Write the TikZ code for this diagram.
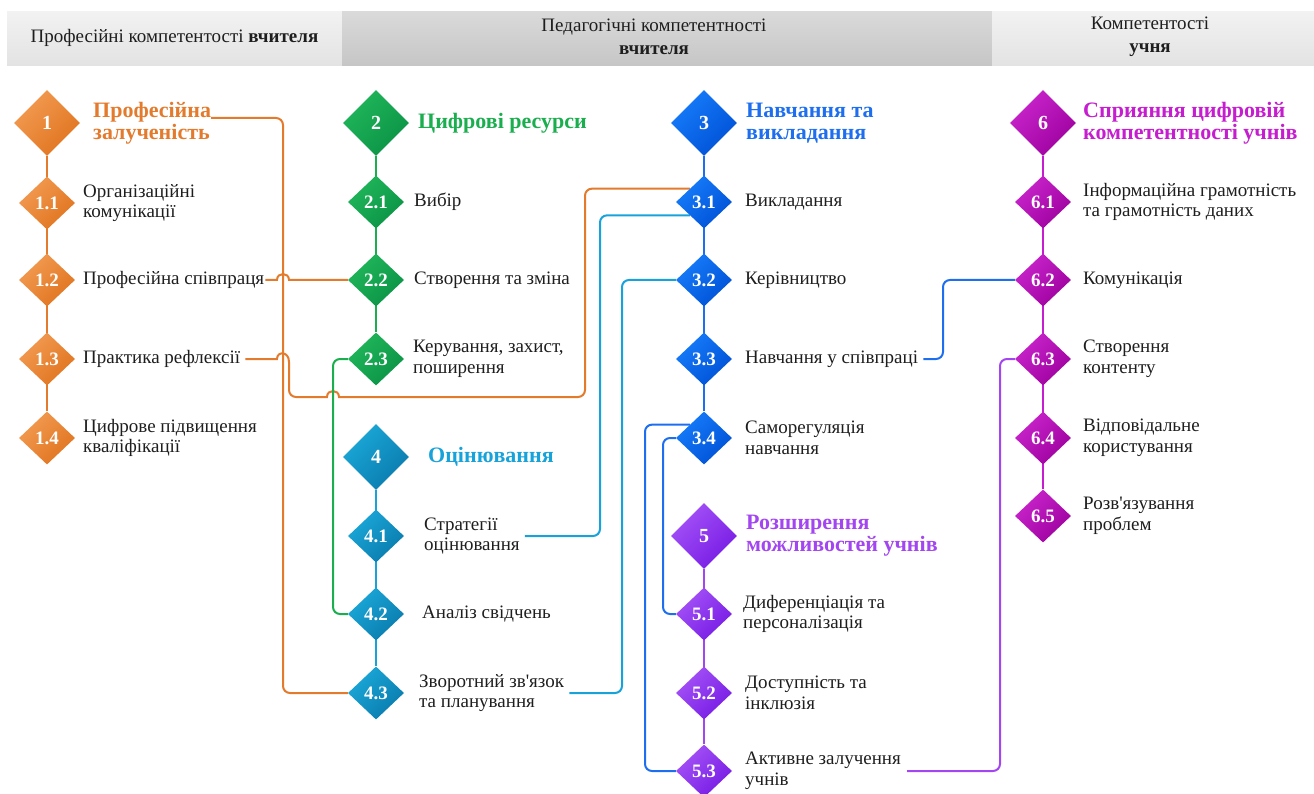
\documentclass[tikz,border=0pt]{standalone}
\usepackage{fontspec}
\setmainfont{Liberation Serif}[Ligatures=TeXOff]
\usetikzlibrary{shapes.geometric,calc}
\pgfdeclarelayer{bg}
\pgfsetlayers{bg,main}
\definecolor{orL}{HTML}{F29B52}\definecolor{orD}{HTML}{E0741F}\definecolor{orT}{HTML}{E37A2C}
\definecolor{grL}{HTML}{20B65A}\definecolor{grD}{HTML}{0B9346}\definecolor{grT}{HTML}{1BAE4F}
\definecolor{tlL}{HTML}{1AA8D8}\definecolor{tlD}{HTML}{0A7BAD}\definecolor{tlT}{HTML}{18A2DA}
\definecolor{blL}{HTML}{167CFA}\definecolor{blD}{HTML}{0051D6}\definecolor{blT}{HTML}{1E6FF0}
\definecolor{puL}{HTML}{A452F7}\definecolor{puD}{HTML}{761BE4}\definecolor{puT}{HTML}{A346F1}
\definecolor{mgL}{HTML}{C825CC}\definecolor{mgD}{HTML}{9E009E}\definecolor{mgT}{HTML}{C51DCF}
\definecolor{txt}{HTML}{1E1E1E}
\definecolor{hAa}{HTML}{F2F2F2}\definecolor{hAb}{HTML}{E3E3E3}
\definecolor{hBa}{HTML}{DADADA}\definecolor{hBb}{HTML}{C6C6C6}
\newcommand\lblfont{\fontsize{19}{20.5}\selectfont}
\newcommand\ttlfont{\bfseries\fontsize{22}{22}\selectfont}
\tikzset{
  dia/.style={diamond, inner sep=0pt, minimum width=56pt, minimum height=53pt, text=white,
    font=\bfseries\fontsize{19}{19}\selectfont},
  big/.style={dia, minimum width=66pt, minimum height=66pt, font=\bfseries\fontsize{20}{20}\selectfont},
  cdia/.style={top color=#1L, bottom color=#1D, shading angle=45},
  lbl/.style={anchor=west, align=left, inner sep=0pt, text=txt, font=\lblfont},
  ttl/.style={anchor=west, align=left, inner sep=0pt, font=\ttlfont},
  ln/.style={line width=2pt, rounded corners=7pt},
  sp/.style={line width=2pt},
  hdr/.style={anchor=north west, inner sep=0pt, minimum height=54pt},
  htxt/.style={align=center, inner sep=0pt, text=txt, font=\fontsize{19}{23}\selectfont}
}
\begin{document}
\begin{tikzpicture}[x=1pt,y=-1pt]
\useasboundingbox (0,0) rectangle (1314,794);
% header
\node[hdr, minimum width=335pt, top color=hAa, bottom color=hAb] (h1) at (7,11) {};
\node[hdr, minimum width=650pt, top color=hBa, bottom color=hBb] (h2) at (342,11) {};
\node[hdr, minimum width=322pt, top color=hAa, bottom color=hAb] (h3) at (992,11) {};
\node[htxt] (h1t) at (174.5,38) {Професійні компетентості \textbf{вчителя}};
\node[htxt] (h2t) at (654,37) {Педагогічні компетентності\\\textbf{вчителя}};
\node[htxt] (h3t) at (1150,37) {Компетентості\\\textbf{учня}};
% column 1
\node[big, cdia=or] (n1) at (47,123) {1};
\node[dia, cdia=or] (n11) at (47,203) {1.1};
\node[dia, cdia=or] (n12) at (47,280) {1.2};
\node[dia, cdia=or] (n13) at (47,359) {1.3};
\node[dia, cdia=or] (n14) at (47,438) {1.4};
\node[ttl, anchor=base west, text=orT] (t1a) at (93,118) {Професійна};
\node[ttl, anchor=base west, text=orT] (t1b) at (93,140) {залученість};
\node[lbl] (n11t) at (83,203) {Організаційні\\комунікації};
\node[lbl] (n12t) at (83,280) {Професійна співпраця};
\node[lbl] (n13t) at (83,359) {Практика рефлексії};
\node[lbl] (n14t) at (83,438) {Цифрове підвищення\\кваліфікації};
% column 2
\node[big, cdia=gr] (n2) at (376,123) {2};
\node[dia, cdia=gr] (n21) at (376,202) {2.1};
\node[dia, cdia=gr] (n22) at (376,280) {2.2};
\node[dia, cdia=gr] (n23) at (376,359) {2.3};
\node[ttl, text=grT] (t2) at (418,123) {Цифрові ресурси};
\node[lbl] (n21t) at (414,202) {Вибір};
\node[lbl] (n22t) at (414,280) {Створення та зміна};
\node[lbl] (n23t) at (413,359) {Керування, захист,\\поширення};
\node[big, cdia=tl] (n4) at (376,457) {4};
\node[dia, cdia=tl] (n41) at (376,536) {4.1};
\node[dia, cdia=tl] (n42) at (376,614) {4.2};
\node[dia, cdia=tl] (n43) at (376,693) {4.3};
\node[ttl, text=tlT] (t4) at (428,457) {Оцінювання};
\node[lbl] (n41t) at (424,536) {Стратегії\\оцінювання};
\node[lbl] (n42t) at (422,614) {Аналіз свідчень};
\node[lbl] (n43t) at (419,693) {Зворотний зв'язок\\та планування};
% column 3
\node[big, cdia=bl] (n3) at (704,123) {3};
\node[dia, cdia=bl] (n31) at (704,202) {3.1};
\node[dia, cdia=bl] (n32) at (704,280) {3.2};
\node[dia, cdia=bl] (n33) at (704,359) {3.3};
\node[dia, cdia=bl] (n34) at (704,438) {3.4};
\node[ttl, text=blT] (t3) at (746,123) {Навчання та\\викладання};
\node[lbl] (n31t) at (745,202) {Викладання};
\node[lbl] (n32t) at (745,280) {Керівництво};
\node[lbl] (n33t) at (745,359) {Навчання у співпраці};
\node[lbl] (n34t) at (745,438) {Саморегуляція\\навчання};
\node[big, cdia=pu] (n5) at (704,536) {5};
\node[dia, cdia=pu] (n51) at (704,614) {5.1};
\node[dia, cdia=pu] (n52) at (704,693) {5.2};
\node[dia, cdia=pu] (n53) at (704,771) {5.3};
\node[ttl, text=puT] (t5) at (746,536) {Розширення\\можливостей учнів};
\node[lbl] (n51t) at (743,614) {Диференціація та\\персоналізація};
\node[lbl] (n52t) at (745,693) {Доступність та\\інклюзія};
\node[lbl] (n53t) at (745,771) {Активне залучення\\учнів};
% column 4
\node[big, cdia=mg] (n6) at (1043,123) {6};
\node[dia, cdia=mg] (n61) at (1043,202) {6.1};
\node[dia, cdia=mg] (n62) at (1043,280) {6.2};
\node[dia, cdia=mg] (n63) at (1043,359) {6.3};
\node[dia, cdia=mg] (n64) at (1043,438) {6.4};
\node[dia, cdia=mg] (n65) at (1043,516) {6.5};
\node[ttl, text=mgT] (t6) at (1083,123) {Сприяння цифровій\\компетентності учнів};
\node[lbl] (n61t) at (1083,202) {Інформаційна грамотність\\та грамотність даних};
\node[lbl] (n62t) at (1083,280) {Комунікація};
\node[lbl] (n63t) at (1083,359) {Створення\\контенту};
\node[lbl] (n64t) at (1083,438) {Відповідальне\\користування};
\node[lbl] (n65t) at (1083,516) {Розв'язування\\проблем};
\begin{pgfonlayer}{bg}
% spines
\draw[sp, orT] (n1) -- (n14);
\draw[sp, grT] (n2) -- (n23);
\draw[sp, tlT] (n4) -- (n43);
\draw[sp, blT] (n3) -- (n34);
\draw[sp, puT] (n5) -- (n53);
\draw[sp, mgT] (n6) -- (n65);
% connectors
\draw[ln, orT] (t1a.base east) -| (283,0 |- n43.west) -- (n43.west);
\draw[ln, orT, sharp corners] ([xshift=1pt]n12t.east) -- (277,280) .. controls (277,272) and (289,272) .. (289,280) -- (n22.west);
\draw[ln, orT] ([xshift=5pt]n13t.east) [sharp corners] -- (277,359) .. controls (277,351) and (289,351) .. (289,362) [rounded corners=7pt] -- (289,397) [sharp corners] -- (327,397) .. controls (327,389) and (339,389) .. (339,397) [rounded corners=7pt] -- (585,397) |- (n31.north west);
\draw[ln, grT] (n23.west) -| (333,0 |- n42.west) -- (n42.west);
\draw[ln, tlT] ([xshift=5pt]n41t.east) -| (600,0 |- n31.south west) -- (n31.south west);
\draw[ln, tlT] ([xshift=5pt]n43t.east) -| (622,0 |- n32.west) -- (n32.west);
\draw[ln, blT] ([xshift=5pt]n33t.east) -| (943,0 |- n62.west) -- (n62.west);
\draw[ln, blT] (n34.north west) -| (645,0 |- n53.west) -- (n53.west);
\draw[ln, blT] (n34.west) -| (663,0 |- n51.west) -- (n51.west);
\draw[ln, puT] ([xshift=6pt]n53t.east) -| (1000,0 |- n63.west) -- (n63.west);
\end{pgfonlayer}
\end{tikzpicture}
\end{document}
